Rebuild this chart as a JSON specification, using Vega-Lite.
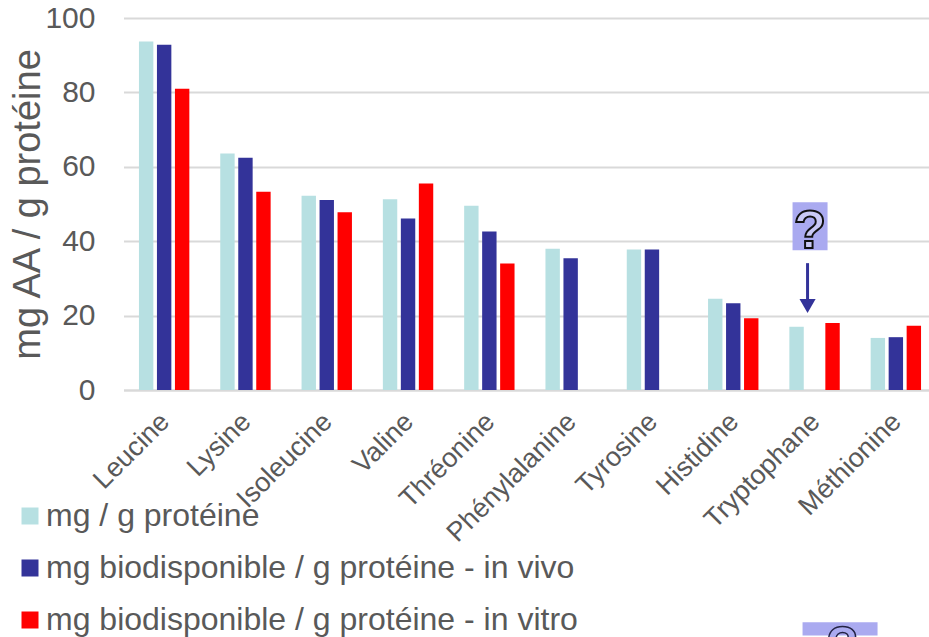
{
"$schema":"https://vega.github.io/schema/vega-lite/v6.json",
"width":804,"height":372,
"autosize":{"type":"none"},
"padding":{"left":125,"top":18,"right":0,"bottom":247},
"background":"white",
"config":{"view":{"stroke":null},"font":"Liberation Sans"},
"layer":[
{"data":{"values":[
{"aa":"Leucine","s":"mg / g protéine","v":93.7},{"aa":"Leucine","s":"mg biodisponible / g protéine - in vivo","v":92.8},{"aa":"Leucine","s":"mg biodisponible / g protéine - in vitro","v":81},
{"aa":"Lysine","s":"mg / g protéine","v":63.6},{"aa":"Lysine","s":"mg biodisponible / g protéine - in vivo","v":62.4},{"aa":"Lysine","s":"mg biodisponible / g protéine - in vitro","v":53.3},
{"aa":"Isoleucine","s":"mg / g protéine","v":52.2},{"aa":"Isoleucine","s":"mg biodisponible / g protéine - in vivo","v":51.1},{"aa":"Isoleucine","s":"mg biodisponible / g protéine - in vitro","v":47.8},
{"aa":"Valine","s":"mg / g protéine","v":51.3},{"aa":"Valine","s":"mg biodisponible / g protéine - in vivo","v":46.1},{"aa":"Valine","s":"mg biodisponible / g protéine - in vitro","v":55.5},
{"aa":"Thréonine","s":"mg / g protéine","v":49.5},{"aa":"Thréonine","s":"mg biodisponible / g protéine - in vivo","v":42.6},{"aa":"Thréonine","s":"mg biodisponible / g protéine - in vitro","v":34},
{"aa":"Phénylalanine","s":"mg / g protéine","v":38},{"aa":"Phénylalanine","s":"mg biodisponible / g protéine - in vivo","v":35.4},
{"aa":"Tyrosine","s":"mg / g protéine","v":37.8},{"aa":"Tyrosine","s":"mg biodisponible / g protéine - in vivo","v":37.8},
{"aa":"Histidine","s":"mg / g protéine","v":24.5},{"aa":"Histidine","s":"mg biodisponible / g protéine - in vivo","v":23.3},{"aa":"Histidine","s":"mg biodisponible / g protéine - in vitro","v":19.3},
{"aa":"Tryptophane","s":"mg / g protéine","v":17},{"aa":"Tryptophane","s":"mg biodisponible / g protéine - in vitro","v":18},
{"aa":"Méthionine","s":"mg / g protéine","v":14},{"aa":"Méthionine","s":"mg biodisponible / g protéine - in vivo","v":14.2},{"aa":"Méthionine","s":"mg biodisponible / g protéine - in vitro","v":17.3}
]},
"mark":{"type":"bar","clip":false},
"encoding":{
"x":{"field":"aa","type":"nominal","sort":null,"scale":{"domain":["Leucine","Lysine","Isoleucine","Valine","Thréonine","Phénylalanine","Tyrosine","Histidine","Tryptophane","Méthionine"],"range":[-1.5,811.5],"paddingInner":0.336,"paddingOuter":0.168},
"axis":{"title":null,"labelAngle":-45,"labelFontSize":27,"labelColor":"#595959","ticks":false,"domainColor":"#d9d9d9","domainWidth":2,"labelPadding":18,"labelOffset":-8,"labelOverlap":false,"grid":false}},
"xOffset":{"field":"s","type":"nominal","sort":null,"scale":{"domain":["mg / g protéine","mg biodisponible / g protéine - in vivo","mg biodisponible / g protéine - in vitro"],"paddingInner":0.2,"paddingOuter":0.1}},
"y":{"field":"v","type":"quantitative","scale":{"domain":[0,100],"nice":false},
"axis":{"title":"mg AA / g protéine","titleFontSize":38,"titleFontWeight":"normal","titleColor":"#595959","titlePadding":-3,"labelFontSize":30,"labelColor":"#595959","labelPadding":30,"ticks":false,"domain":false,"gridColor":"#d9d9d9","gridWidth":2,"values":[0,20,40,60,80,100]}},
"color":{"field":"s","type":"nominal","scale":{"domain":["mg / g protéine","mg biodisponible / g protéine - in vivo","mg biodisponible / g protéine - in vitro"],"range":["#b7e0e2","#333399","#ff0000"]},
"legend":{"title":null,"orient":"none","legendX":-111,"legendY":482,"symbolType":"square","symbolSize":289,"symbolStrokeWidth":0,"labelFontSize":32,"labelColor":"#595959","labelLimit":0,"rowPadding":20,"labelOffset":0,"symbolOpacity":1}}
}},
{"data":{"values":[{"aa":"Tryptophane","lo":37.6,"hi":50.5}]},
"mark":{"type":"bar","width":35,"xOffset":-4.5,"color":"#aaaaf0","clip":false},
"encoding":{"x":{"field":"aa","type":"nominal"},"y":{"field":"lo","type":"quantitative"},"y2":{"field":"hi"}}},
{"data":{"values":[{"aa":"Tryptophane","lo":-66,"hi":-62.4}]},
"mark":{"type":"bar","width":75,"xOffset":25.5,"color":"#aaaaf0","clip":false},
"encoding":{"x":{"field":"aa","type":"nominal"},"y":{"field":"lo","type":"quantitative"},"y2":{"field":"hi"}}},
{"data":{"values":[{"aa":"Tryptophane","y":42.4,"t":"?"}]},
"mark":{"type":"text","fontSize":53,"fontWeight":"bold","fill":"#c9c9f5","stroke":"#111111","strokeWidth":2,"xOffset":-4.5,"baseline":"middle","align":"center"},
"encoding":{"x":{"field":"aa","type":"nominal"},"y":{"field":"y","type":"quantitative"},"text":{"field":"t"}}},
{"data":{"values":[{"aa":"Tryptophane","y":-62.3,"t":"?"}]},
"mark":{"type":"text","fontSize":53,"fontWeight":"bold","fill":"#aaaaf0","stroke":"#222244","strokeWidth":1.5,"xOffset":28,"baseline":"top","align":"center","clip":false},
"encoding":{"x":{"field":"aa","type":"nominal"},"y":{"field":"y","type":"quantitative"},"text":{"field":"t"}}},
{"data":{"values":[{"aa":"Tryptophane","from":34.1,"to":24}]},
"mark":{"type":"rule","color":"#333399","strokeWidth":3,"xOffset":-7},
"encoding":{"x":{"field":"aa","type":"nominal"},"y":{"field":"from","type":"quantitative"},"y2":{"field":"to"}}},
{"data":{"values":[{"aa":"Tryptophane","tip":22.6}]},
"mark":{"type":"point","shape":"triangle-down","filled":true,"opacity":1,"color":"#333399","size":260,"xOffset":-7},
"encoding":{"x":{"field":"aa","type":"nominal"},"y":{"field":"tip","type":"quantitative"}}}
]
}
